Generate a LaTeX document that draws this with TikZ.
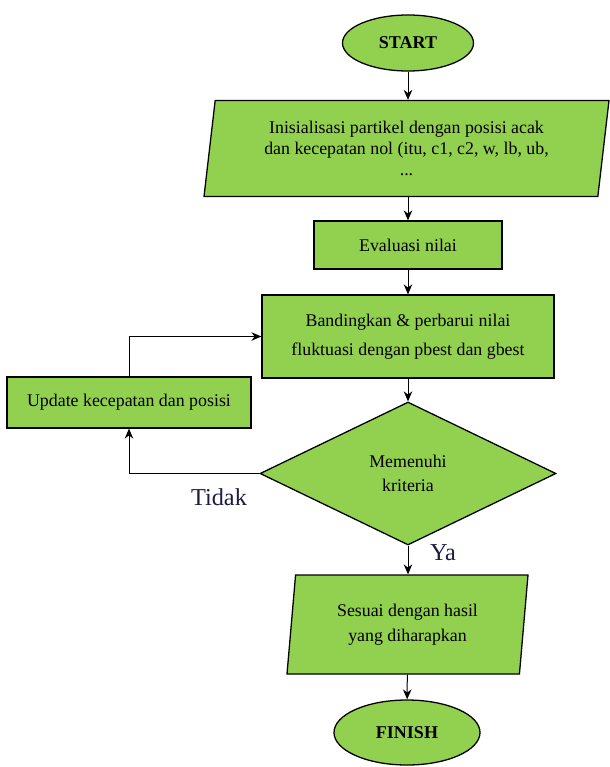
\documentclass[tikz,border=0pt]{standalone}
\usepackage{fontspec}
\setmainfont{Liberation Serif}
\usetikzlibrary{shapes.geometric,arrows.meta}
\definecolor{boxgreen}{RGB}{146,208,80}
\definecolor{labelnavy}{RGB}{28,28,64}

\begin{document}
\begin{tikzpicture}[x=0.7pt,y=-0.7pt,
    box/.style={draw,rectangle,fill=boxgreen,line width=0.9pt,align=center,inner sep=2pt,font=\fontsize{12.5}{14.7}\selectfont},
    term/.style={draw,ellipse,fill=boxgreen,line width=0.9pt,inner sep=1pt,font=\fontsize{12.6}{15}\selectfont\bfseries},
    io/.style={draw,trapezium,trapezium left angle=79,trapezium right angle=101,trapezium stretches body,fill=boxgreen,line width=0.9pt,align=center,inner sep=1pt,font=\fontsize{12.5}{14.7}\selectfont},
    cond/.style={draw,diamond,fill=boxgreen,line width=0.9pt,align=center,inner sep=0pt,font=\fontsize{12.5}{17}\selectfont},
    arr/.style={-{Stealth[length=7pt,width=6pt]},line width=0.7pt},
    lbl/.style={text=labelnavy,font=\fontsize{17}{20}\selectfont}]
  \useasboundingbox (0,0) rectangle (609,767);
  % Define the nodes for the flow
  \node[term,minimum width=91.7pt,minimum height=39.2pt] (start) at (408,43) {START};
  \node[io,minimum width=283.5pt,minimum height=67.2pt] (init) at (406.5,148.5)
    {Inisialisasi partikel dengan posisi acak\\dan kecepatan nol (itu, c1, c2, w, lb, ub,\\...};
  \node[box,minimum width=131.6pt,minimum height=33.6pt] (eval) at (408,245) {Evaluasi nilai};
  \node[box,minimum width=204.4pt,minimum height=58.1pt,font=\fontsize{12.5}{20}\selectfont] (cmp) at (408,336.5)
    {Bandingkan \& perbarui nilai\\fluktuasi dengan pbest dan gbest};
  \node[box,minimum width=170.8pt,minimum height=35.7pt] (update) at (129,402.5) {Update kecepatan dan posisi};
  \node[cond,minimum width=207.2pt,minimum height=100.1pt] (crit) at (408,473.5) {Memenuhi\\kriteria};
  \node[io,minimum width=168.7pt,minimum height=69.3pt,font=\fontsize{12.5}{17.5}\selectfont] (result) at (407.5,624.5)
    {Sesuai dengan hasil\\yang diharapkan};
  \node[term,minimum width=102.2pt,minimum height=45.5pt] (finish) at (407,732.5) {FINISH};
  % Labels of the decision
  \node[lbl] (tidak) at (219,497) {Tidak};
  \node[lbl] (ya) at (443,553) {Ya};
  % Connect the nodes
  \draw[arr] (start) -- (start |- init.north);
  \draw[arr] (eval |- init.south) -- (eval);
  \draw[arr] (eval) -- (cmp);
  \draw[arr] (cmp) -- (crit);
  \draw[arr] (crit) -- (crit |- result.north);
  \draw[arr] (result) -- (finish);
  \draw[arr] (crit.west) -| (update.south);
  \draw[arr] (update.north) |- (cmp.west);
\end{tikzpicture}
\end{document}
